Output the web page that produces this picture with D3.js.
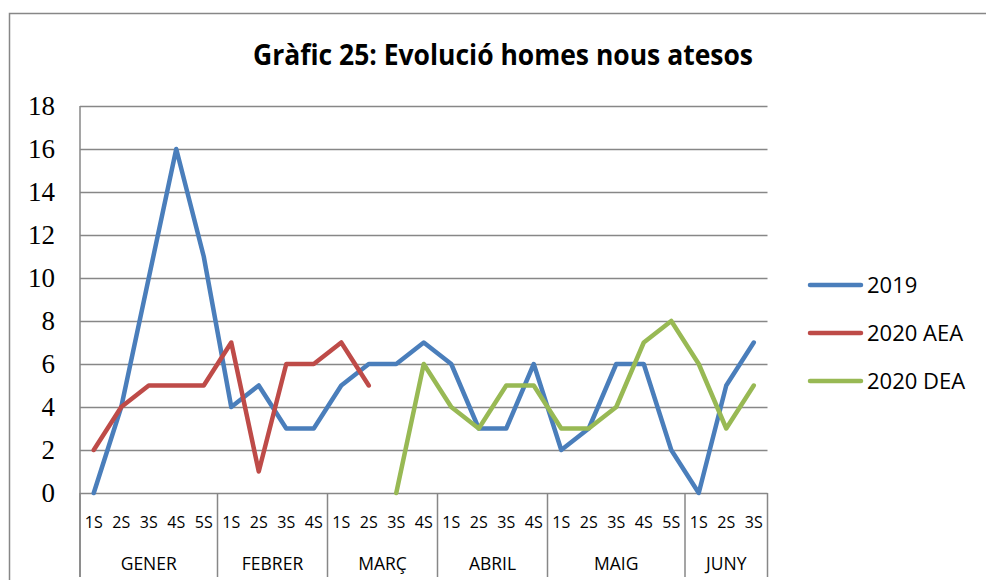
<!DOCTYPE html>
<html>
<head>
<meta charset="utf-8">
<script src="https://cdn.jsdelivr.net/npm/d3@7"></script>
<style>
  html, body { margin: 0; padding: 0; background: #ffffff; }
  svg { display: block; }
</style>
</head>
<body>
<svg id="chart" width="986" height="580"></svg>
<script>
// ---- data ----
const title = "Gràfic 25: Evolució homes nous atesos";
const months = ["GENER", "FEBRER", "MARÇ", "ABRIL", "MAIG", "JUNY"];
const weeksPerMonth = [
  ["1S", "2S", "3S", "4S", "5S"],
  ["1S", "2S", "3S", "4S"],
  ["1S", "2S", "3S", "4S"],
  ["1S", "2S", "3S", "4S"],
  ["1S", "2S", "3S", "4S", "5S"],
  ["1S", "2S", "3S"]
];
const values2019 = [0, 4, 10, 16, 11, 4, 5, 3, 3, 5, 6, 6, 7, 6, 3, 3, 6, 2, 3, 6, 6, 2, 0, 5, 7];
const values2020AEA = [2, 4, 5, 5, 5, 7, 1, 6, 6, 7, 5, null, null, null, null, null, null, null, null, null, null, null, null, null, null];
const values2020DEA = [null, null, null, null, null, null, null, null, null, null, null, 0, 6, 4, 3, 5, 5, 3, 3, 4, 7, 8, 6, 3, 5];
const seriesNames = ["2019", "2020 AEA", "2020 DEA"];
const seriesColors = ["#4A7EBB", "#BE4B48", "#98B954"];
const yTicks = [0, 2, 4, 6, 8, 10, 12, 14, 16, 18];

(function () {
// ---- build categories ----
const categories = [];
weeksPerMonth.forEach((wk, mi) => wk.forEach(w => categories.push({ key: months[mi] + "|" + w, month: months[mi], week: w })));
const series = [values2019, values2020AEA, values2020DEA];

// ---- layout ----
const svg = d3.select("#chart");
const pLeft = 80, pRight = 767.5, pTop = 106, pBottom = 493;
const gridColor = "#878787";

const x = d3.scaleBand().domain(categories.map(c => c.key)).range([pLeft, pRight]).paddingInner(0).paddingOuter(0);
const y = d3.scaleLinear().domain([0, 18]).range([pBottom, pTop]);

// outer chart frame (extends beyond the picture)
svg.append("rect")
  .attr("x", 9.5).attr("y", 13.5).attr("width", 1000).attr("height", 600)
  .attr("fill", "none").attr("stroke", gridColor).attr("stroke-width", 1.5);

// title
svg.append("text")
  .attr("x", 503).attr("y", 65)
  .attr("text-anchor", "middle")
  .attr("font-family", "'Open Sans', 'Liberation Sans', sans-serif")
  .attr("font-weight", "bold")
  .attr("font-size", 29)
  .attr("textLength", 500)
  .attr("lengthAdjust", "spacingAndGlyphs")
  .attr("fill", "#000")
  .text(title);

// gridlines via axis
const yAxis = d3.axisLeft(y).tickValues(yTicks).tickSize(-(pRight - pLeft)).tickFormat("");
const gy = svg.append("g").attr("transform", `translate(${pLeft},0)`).call(yAxis);
gy.select(".domain").remove();
gy.selectAll(".tick line").attr("stroke", gridColor).attr("stroke-width", 1.5);

// y labels
svg.append("g").selectAll("text").data(yTicks).join("text")
  .attr("x", 55).attr("y", d => y(d))
  .attr("dy", "0.34em")
  .attr("text-anchor", "end")
  .attr("font-family", "'Liberation Serif', 'DejaVu Serif', serif")
  .attr("font-size", 27)
  .attr("fill", "#000")
  .text(d => d);

// left axis line
svg.append("line")
  .attr("x1", pLeft).attr("x2", pLeft).attr("y1", pTop).attr("y2", 577)
  .attr("stroke", gridColor).attr("stroke-width", 1.5);

// month separators (multi-level category axis)
let idx = 0;
const sepX = [pLeft];
weeksPerMonth.forEach(wk => { idx += wk.length; sepX.push(x(categories[idx - 1].key) + x.bandwidth()); });
svg.append("g").selectAll("line").data(sepX).join("line")
  .attr("x1", d => d).attr("x2", d => d)
  .attr("y1", pBottom).attr("y2", 577)
  .attr("stroke", gridColor).attr("stroke-width", 1.5);

// week labels
svg.append("g").selectAll("text").data(categories).join("text")
  .attr("x", d => x(d.key) + x.bandwidth() / 2)
  .attr("y", 528)
  .attr("text-anchor", "middle")
  .attr("font-family", "'Open Sans', sans-serif")
  .attr("font-size", 16)
  .attr("fill", "#000")
  .text(d => d.week);

// month labels
const monthSpans = months.map((m, i) => ({ m, x0: sepX[i], x1: sepX[i + 1] }));
svg.append("g").selectAll("text").data(monthSpans).join("text")
  .attr("x", d => (d.x0 + d.x1) / 2)
  .attr("y", 570)
  .attr("text-anchor", "middle")
  .attr("font-family", "'Open Sans', sans-serif")
  .attr("font-size", 17.5)
  .attr("fill", "#000")
  .text(d => d.m);

// series lines
const line = d3.line()
  .defined(d => d.v !== null)
  .x(d => x(d.key) + x.bandwidth() / 2)
  .y(d => y(d.v));

series.forEach((vals, si) => {
  const pts = categories.map((c, i) => ({ key: c.key, v: vals[i] }));
  svg.append("path")
    .datum(pts)
    .attr("d", line)
    .attr("fill", "none")
    .attr("stroke", seriesColors[si])
    .attr("stroke-width", 4.5)
    .attr("stroke-linejoin", "round")
    .attr("stroke-linecap", "round");
});

// legend
const legendY = [285, 333, 381];
const lg = svg.append("g");
seriesNames.forEach((name, i) => {
  lg.append("line")
    .attr("x1", 810).attr("x2", 861)
    .attr("y1", legendY[i]).attr("y2", legendY[i])
    .attr("stroke", seriesColors[i]).attr("stroke-width", 4.5)
    .attr("stroke-linecap", "round");
  lg.append("text")
    .attr("x", 867).attr("y", legendY[i] + 8)
    .attr("font-family", "'Open Sans', sans-serif")
    .attr("font-size", 22)
    .attr("fill", "#000")
    .text(name);
});
})();
</script>
</body>
</html>
